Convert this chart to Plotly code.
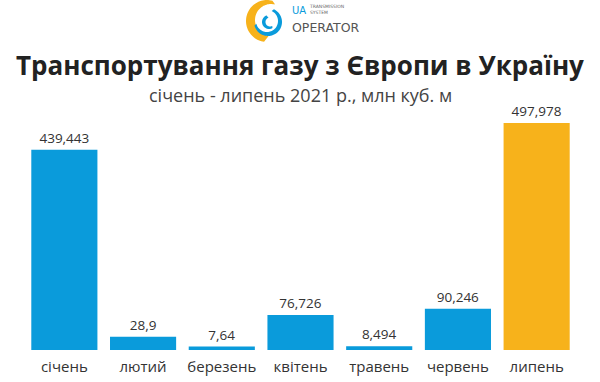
import math
import plotly.graph_objects as go

# ---- data ----
months = ["січень", "лютий", "березень", "квітень", "травень", "червень", "липень"]
volumes = [439.443, 28.9, 7.64, 76.726, 8.494, 90.246, 497.978]
value_labels = [str(v).replace(".", ",") for v in volumes]

BLUE = "#0A9BDB"
ORANGE = "#F7B21B"
colors = [BLUE] * 6 + [ORANGE]

W, H = 600, 382
ML, MR, MT, MB = 25, 24, 110, 32
PW, PH = W - ML - MR, H - MT - MB


def px2p(x, y):
    return (x - ML) / PW, (H - MB - y) / PH


def poly_path(points):
    pts = [px2p(x, y) for x, y in points]
    return "M " + " L ".join(f"{a:.5f},{b:.5f}" for a, b in pts) + " Z"


def crescent(cx, cy, r_out, a0, a1, icx, icy, r_in, n=48):
    outer = []
    inner = []
    for i in range(n + 1):
        a = math.radians(a0 + (a1 - a0) * i / n)
        outer.append((cx + r_out * math.cos(a), cy - r_out * math.sin(a)))
    for i in range(n + 1):
        a = math.radians(a1 - (a1 - a0) * i / n)
        inner.append((icx + r_in * math.cos(a), icy - r_in * math.sin(a)))
    return poly_path(outer + inner)


fig = go.Figure(
    go.Bar(
        x=months,
        y=volumes,
        marker=dict(color=colors, line=dict(width=0)),
        text=value_labels,
        textposition="outside",
        cliponaxis=False,
        textfont=dict(family="Open Sans", size=13.5, color="#333333"),
        hoverinfo="skip",
    )
)

# logo shapes
cx, cy = 267, 21
shapes = [
    dict(type="path", xref="paper", yref="paper",
         path=crescent(cx, cy, 21, 75, 262, cx + 4, cy - 1, 16),
         fillcolor=ORANGE, line=dict(width=0), layer="above"),
    dict(type="path", xref="paper", yref="paper",
         path=crescent(cx + 1, cy + 1, 14, 195, 425, cx + 0, cy + 0, 11),
         fillcolor=BLUE, line=dict(width=0), layer="above"),
    dict(type="path", xref="paper", yref="paper",
         path=crescent(cx + 2, cy + 1, 7, 110, 300, cx + 3, cy + 1, 4.5),
         fillcolor=BLUE, line=dict(width=0), layer="above"),
]

annotations = [
    dict(text="<b>Транспортування газу з Європи в Україну</b>", x=px2p(300, 0)[0], xref="paper",
         xanchor="center", y=px2p(0, 65)[1], yref="paper", yanchor="middle",
         showarrow=False, font=dict(family="Open Sans", size=26, color="#222222")),
    dict(text="січень - липень 2021 р., млн куб. м", x=px2p(300, 0)[0], xref="paper",
         xanchor="center", y=px2p(0, 95)[1], yref="paper", yanchor="middle",
         showarrow=False, font=dict(family="Open Sans", size=18, color="#444444")),
    dict(text="UA", x=px2p(290, 0)[0], xref="paper", xanchor="left",
         y=px2p(0, 18)[1], yref="paper", yanchor="bottom", showarrow=False,
         font=dict(family="DejaVu Sans", size=10, color=BLUE)),
    dict(text="TRANSMISSION<br>SYSTEM", x=px2p(307, 0)[0], xref="paper", xanchor="left",
         y=px2p(0, 17.5)[1], yref="paper", yanchor="bottom", showarrow=False, align="left",
         font=dict(family="DejaVu Sans", size=4.5, color="#666666")),
    dict(text="OPERATOR", x=px2p(290, 0)[0], xref="paper", xanchor="left",
         y=px2p(0, 18)[1], yref="paper", yanchor="top", showarrow=False,
         font=dict(family="DejaVu Sans", size=12.5, color="#555555")),
]

fig.update_layout(
    width=W, height=H,
    margin=dict(l=ML, r=MR, t=MT, b=MB, pad=0, autoexpand=False),
    paper_bgcolor="white", plot_bgcolor="white",
    bargap=0.16,
    showlegend=False,
    shapes=shapes,
    annotations=annotations,
    font=dict(family="Open Sans"),
    xaxis=dict(showgrid=False, showline=False, zeroline=False, ticks="",
               tickfont=dict(family="Open Sans", size=15, color="#333333"),
               ticklabelstandoff=6, automargin=False),
    yaxis=dict(range=[0, 497.978 * 240 / 227], visible=False, showgrid=False,
               zeroline=False, automargin=False),
)

fig.write_html("out.html", config={"displayModeBar": False},
               post_script="document.body.style.margin='0px';")
